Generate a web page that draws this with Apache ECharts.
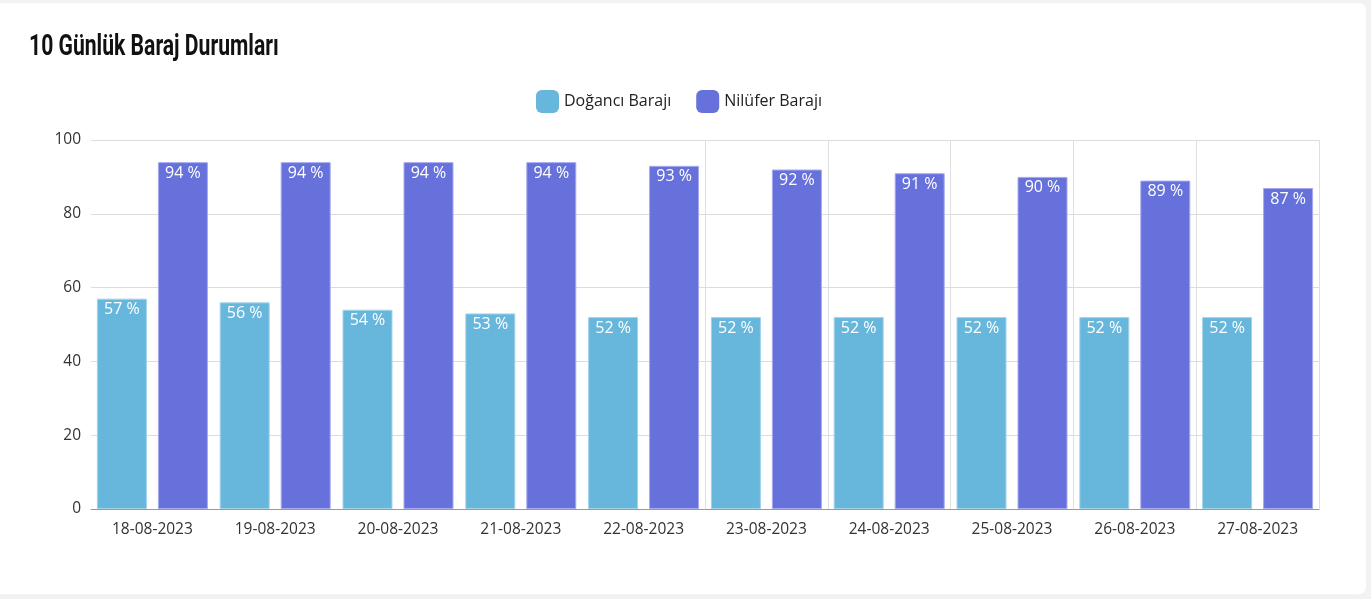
<!DOCTYPE html>
<html>
<head>
<meta charset="utf-8">
<script src="https://cdn.jsdelivr.net/npm/echarts@6/dist/echarts.min.js"></script>
<style>
html,body{margin:0;padding:0;background:#f2f2f4;width:1371px;height:599px;overflow:hidden;}
#card{position:absolute;left:-8px;top:3px;width:1374px;height:591px;background:#fff;border-radius:7px;}
#chart{position:absolute;left:0;top:0;width:1371px;height:599px;}
</style>
</head>
<body>
<div id="card"></div>
<div id="chart"></div>
<script>
const titleText = '10 Günlük Baraj Durumları';
const categories = ['18-08-2023','19-08-2023','20-08-2023','21-08-2023','22-08-2023','23-08-2023','24-08-2023','25-08-2023','26-08-2023','27-08-2023'];
const seriesNames = ['Doğancı Barajı','Nilüfer Barajı'];
const doganci = [57,56,54,53,52,52,52,52,52,52];
const nilufer = [94,94,94,94,93,92,91,90,89,87];

const chart = echarts.init(document.getElementById('chart'), null, {renderer:'canvas'});
const labelCfg = {
  show:true, position:'insideTop', distance:3, color:'#fff',
  fontFamily:'Open Sans', fontSize:16, formatter: p => p.value + ' %'
};
chart.setOption({
  backgroundColor:'transparent',
  animation:false,
  graphic:[{
    type:'text', left:29, top:33, scaleX:0.755, scaleY:1.06,
    style:{text:titleText, font:'bold 28px Roboto', fill:'#111'}
  }],
  legend:{
    top:85, left:531, itemWidth:23, itemHeight:23, itemGap:25,
    icon:'roundRect',
    itemStyle:{borderWidth:0},
    textStyle:{fontFamily:'Open Sans', fontSize:16, color:'#222'},
    data:seriesNames
  },
  grid:{left:91, right:52, top:140, bottom:90},
  xAxis:{
    type:'category', data:categories,
    axisLine:{lineStyle:{color:'#999'}},
    axisTick:{show:false},
    axisLabel:{fontFamily:'Open Sans', fontSize:15.5, color:'#333', margin:13},
    splitLine:{show:true, lineStyle:{color:['rgba(0,0,0,0)','rgba(0,0,0,0)','rgba(0,0,0,0)','rgba(0,0,0,0)','rgba(0,0,0,0)','#e0e0e0','#e0e0e0','#e0e0e0','#e0e0e0','#e0e0e0','#e0e0e0'], width:1}}
  },
  yAxis:{
    type:'value', min:0, max:100, interval:20,
    axisLine:{show:false}, axisTick:{show:false},
    axisLabel:{fontFamily:'Open Sans', fontSize:15.5, color:'#333', margin:10},
    splitLine:{lineStyle:{color:'#dcdcdc'}}
  },
  series:[
    {name:seriesNames[0], type:'bar', data:doganci, barWidth:50, barGap:'22%',
     itemStyle:{color:'#67b7dc', borderColor:'#a4d3ea', borderWidth:1}, label:labelCfg},
    {name:seriesNames[1], type:'bar', data:nilufer, barWidth:50,
     itemStyle:{color:'#6771dc', borderColor:'#a6abee', borderWidth:1}, label:labelCfg}
  ]
});
</script>
</body>
</html>
